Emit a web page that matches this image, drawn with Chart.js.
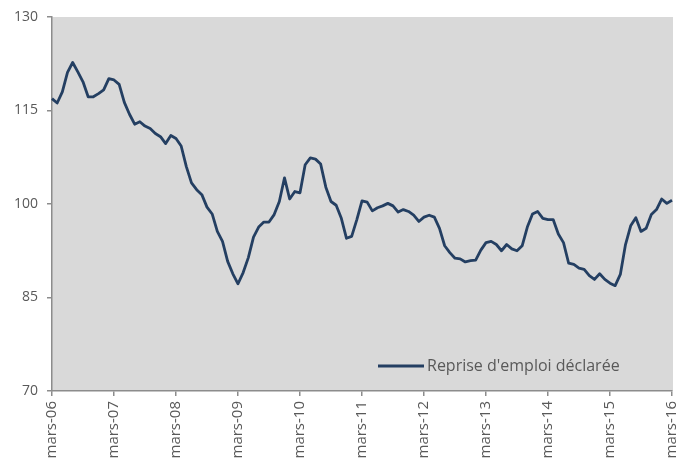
<!DOCTYPE html>
<html lang="fr">
<head>
<meta charset="utf-8">
<title>Reprise d'emploi déclarée</title>
<script src="https://cdn.jsdelivr.net/npm/chart.js@4.4.1/dist/chart.umd.min.js"></script>
<style>
  html, body { margin: 0; padding: 0; background: #fff; }
  canvas { display: block; }
</style>
</head>
<body>
<canvas id="chart" width="688" height="463"></canvas>
<script>
// Données mensuelles, mars 2006 -> mars 2016
const monthNames = ['janv.', 'févr.', 'mars', 'avr.', 'mai', 'juin', 'juil.', 'août', 'sept.', 'oct.', 'nov.', 'déc.'];
const seriesLabel = "Reprise d'emploi déclarée";
const values = [
  116.9, 116.2, 118.0, 121.1, 122.7, 121.2, 119.6, 117.2, 117.2, 117.7, 118.3, 120.1,
  119.9, 119.2, 116.3, 114.4, 112.8, 113.2, 112.5, 112.1, 111.3, 110.8, 109.7, 111.0,
  110.5, 109.3, 106.0, 103.4, 102.3, 101.5, 99.5, 98.4, 95.6, 94.0, 90.8, 88.8,
  87.2, 89.0, 91.4, 94.7, 96.3, 97.1, 97.1, 98.3, 100.4, 104.2, 100.8, 102.0,
  101.8, 106.3, 107.4, 107.2, 106.4, 102.7, 100.4, 99.8, 97.7, 94.5, 94.8, 97.5,
  100.5, 100.3, 98.9, 99.4, 99.7, 100.1, 99.7, 98.7, 99.1, 98.8, 98.2, 97.2,
  97.9, 98.2, 97.9, 96.1, 93.3, 92.2, 91.3, 91.2, 90.7, 90.9, 91.0, 92.6,
  93.8, 94.0, 93.5, 92.5, 93.5, 92.8, 92.5, 93.3, 96.3, 98.4, 98.8, 97.7,
  97.5, 97.5, 95.2, 93.8, 90.5, 90.3, 89.7, 89.5, 88.5, 87.9, 88.8, 87.9,
  87.3, 86.9, 88.7, 93.5, 96.5, 97.8, 95.6, 96.1, 98.3, 99.1, 100.8, 100.1,
  100.6
];
const yTicks = [70, 85, 100, 115, 130];

// libellés "mois-aa" à partir de mars 2006
const labels = values.map((_, i) => {
  const m = (2 + i) % 12;
  const y = 6 + Math.floor((2 + i) / 12);
  return monthNames[m] + '-' + String(y).padStart(2, '0');
});

const axisColor = '#8c8c8c';
const textColor = '#595959';
const lineColor = '#243f62';

// fond gris de la zone de tracé
const plotBackground = {
  id: 'plotBackground',
  beforeDraw(chart) {
    const { ctx, chartArea: a } = chart;
    ctx.save();
    ctx.fillStyle = '#d9d9d9';
    ctx.fillRect(a.left, a.top, a.right - a.left + 1, a.bottom - a.top);
    ctx.restore();
  }
};

// légende dans la zone de tracé, en bas à droite
const insideLegend = {
  id: 'insideLegend',
  afterDatasetsDraw(chart) {
    const { ctx, chartArea: a } = chart;
    const ds = chart.data.datasets[0];
    const x = a.right - 294;
    const y = a.bottom - 25;
    ctx.save();
    ctx.strokeStyle = ds.borderColor;
    ctx.lineWidth = 3;
    ctx.beginPath();
    ctx.moveTo(x, y);
    ctx.lineTo(x + 46, y);
    ctx.stroke();
    ctx.font = '16px "Open Sans"';
    ctx.fillStyle = textColor;
    ctx.textBaseline = 'middle';
    ctx.fillText(ds.label, x + 49, y);
    ctx.restore();
  }
};

new Chart(document.getElementById('chart'), {
  type: 'line',
  data: {
    labels: labels,
    datasets: [{
      label: seriesLabel,
      data: values,
      borderColor: lineColor,
      borderWidth: 2.8,
      borderJoinStyle: 'round',
      pointRadius: 0,
      tension: 0,
      fill: false
    }]
  },
  options: {
    responsive: false,
    animation: false,
    devicePixelRatio: 1,
    layout: { padding: { top: 17, right: 16, left: 0, bottom: 0 } },
    plugins: {
      legend: { display: false },
      tooltip: { enabled: false }
    },
    scales: {
      x: {
        type: 'category',
        offset: false,
        afterBuildTicks: s => { s.ticks = s.ticks.filter(t => t.value % 12 === 0); },
        afterFit: s => {
          s.height = 72;
          s.paddingLeft = 0;
          s.paddingRight = 0;
        },
        border: { color: axisColor, width: 1.5 },
        grid: { drawOnChartArea: false, tickLength: 5, color: axisColor, lineWidth: 1.5, offset: false },
        ticks: {
          autoSkip: false,
          minRotation: 90,
          maxRotation: 90,
          padding: 5,
          color: textColor,
          font: { family: 'Open Sans', size: 15 }
        }
      },
      y: {
        min: 70,
        max: 130,
        afterBuildTicks: s => { s.ticks = yTicks.map(v => ({ value: v })); },
        afterFit: s => {
          s.width = 52;
          s.paddingTop = 0;
          s.paddingBottom = 0;
        },
        border: { color: axisColor, width: 1.5 },
        grid: { drawOnChartArea: false, tickLength: 5, color: axisColor, lineWidth: 1.5 },
        ticks: {
          padding: 9,
          color: textColor,
          font: { family: 'Open Sans', size: 14 }
        }
      }
    }
  },
  plugins: [plotBackground, insideLegend]
});
</script>
</body>
</html>
